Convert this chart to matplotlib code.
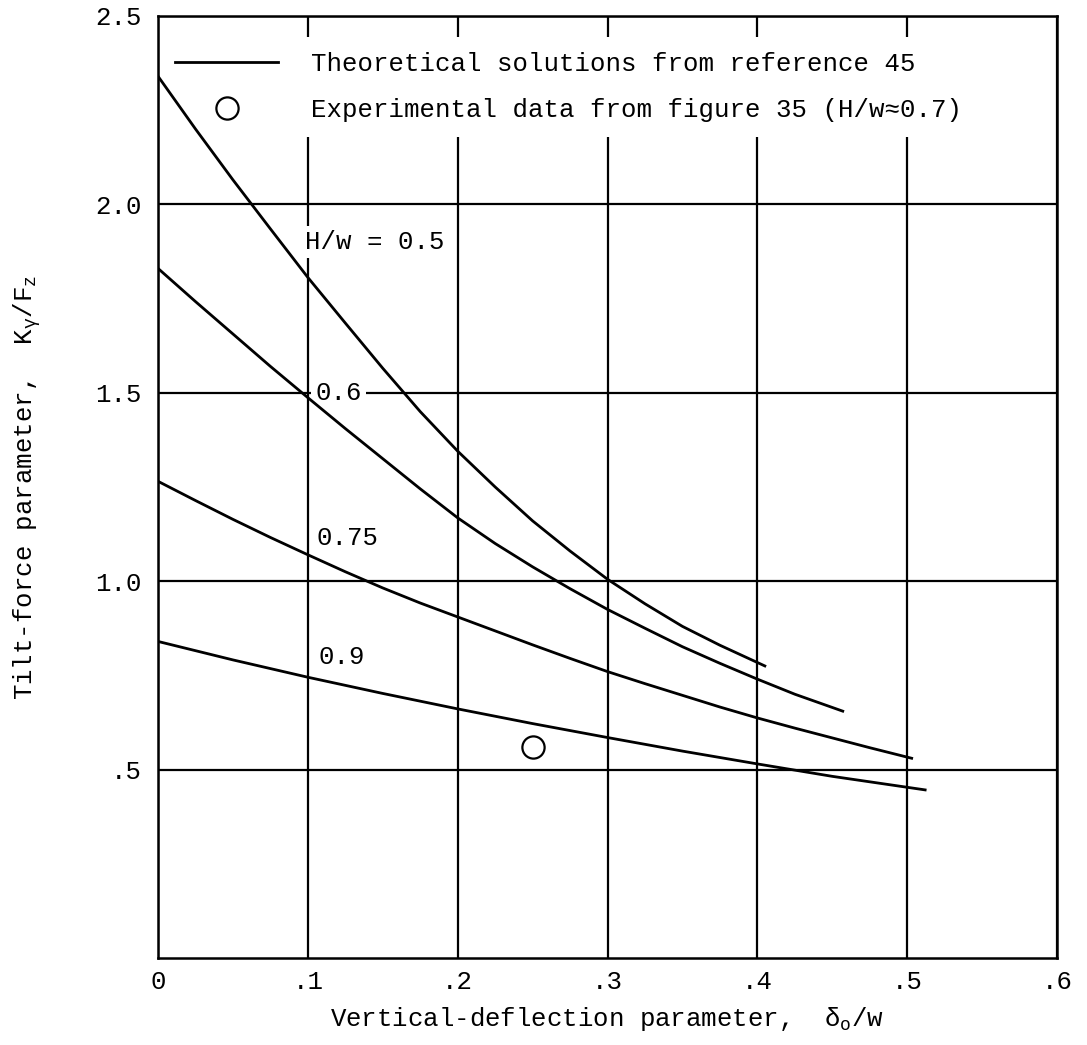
import matplotlib
matplotlib.use("Agg")
import matplotlib.pyplot as plt
from matplotlib.lines import Line2D

plt.rcParams['font.family'] = ['Liberation Mono', 'DejaVu Sans Mono']
plt.rcParams['mathtext.fontset'] = 'custom'
plt.rcParams['mathtext.rm'] = 'Liberation Mono'
plt.rcParams['mathtext.it'] = 'Liberation Mono'
plt.rcParams['mathtext.bf'] = 'Liberation Mono:bold'

# ---- data ----
hw05_x = [0.0, 0.025, 0.05, 0.075, 0.10, 0.125, 0.15, 0.175, 0.20, 0.225, 0.25,
          0.275, 0.30, 0.325, 0.35, 0.375, 0.405]
hw05_y = [2.34, 2.20, 2.065, 1.935, 1.806, 1.685, 1.565, 1.45, 1.345, 1.25, 1.16,
          1.08, 1.005, 0.94, 0.88, 0.83, 0.775]

hw06_x = [0.0, 0.025, 0.05, 0.075, 0.10, 0.125, 0.15, 0.175, 0.20, 0.225, 0.25,
          0.275, 0.30, 0.325, 0.35, 0.375, 0.40, 0.425, 0.457]
hw06_y = [1.83, 1.742, 1.656, 1.57, 1.487, 1.405, 1.325, 1.245, 1.168, 1.10, 1.038,
          0.98, 0.925, 0.875, 0.826, 0.782, 0.74, 0.70, 0.655]

hw075_x = [0.0, 0.025, 0.05, 0.075, 0.10, 0.125, 0.15, 0.175, 0.20, 0.225, 0.25,
           0.275, 0.30, 0.325, 0.35, 0.375, 0.40, 0.425, 0.45, 0.475, 0.503]
hw075_y = [1.265, 1.214, 1.164, 1.116, 1.07, 1.025, 0.982, 0.942, 0.905, 0.868, 0.831,
           0.795, 0.76, 0.728, 0.697, 0.666, 0.637, 0.61, 0.584, 0.558, 0.53]

hw09_x = [0.0, 0.05, 0.10, 0.15, 0.20, 0.25, 0.30, 0.35, 0.40, 0.45, 0.512]
hw09_y = [0.84, 0.791, 0.745, 0.702, 0.661, 0.622, 0.585, 0.549, 0.515, 0.482, 0.446]

exp_x = [0.25]
exp_y = [0.56]

curve_labels = ["H/w = 0.5", "0.6", "0.75", "0.9"]
curve_label_pos = [(0.098, 1.90), (0.105, 1.50), (0.106, 1.115), (0.107, 0.80)]

xticks = [0.0, 0.1, 0.2, 0.3, 0.4, 0.5, 0.6]
xtick_labels = ["0", ".1", ".2", ".3", ".4", ".5", ".6"]
yticks = [0.5, 1.0, 1.5, 2.0, 2.5]
ytick_labels = [".5", "1.0", "1.5", "2.0", "2.5"]

legend_labels = ["Theoretical solutions from reference 45",
                 "Experimental data from figure 35 (H/w\u22480.7)"]

FS = 18.5

fig = plt.figure(figsize=(10.87, 10.45), dpi=100)
ax = fig.add_axes([0.1454, 0.0833, 0.827, 0.9014])
ax.set_xlim(0, 0.6)
ax.set_ylim(0, 2.5)

ax.set_xticks(xticks)
ax.set_xticklabels(xtick_labels, fontsize=FS)
ax.set_yticks(yticks)
ax.set_yticklabels(ytick_labels, fontsize=FS)
ax.tick_params(length=0)
ax.tick_params(axis='x', pad=9)
ax.tick_params(axis='y', pad=12)

ax.grid(True, color='black', linewidth=1.6)
ax.set_axisbelow(True)
for s in ax.spines.values():
    s.set_linewidth(1.8)
    s.set_color('black')

for xs, ys in [(hw05_x, hw05_y), (hw06_x, hw06_y), (hw075_x, hw075_y), (hw09_x, hw09_y)]:
    ax.plot(xs, ys, color='black', linewidth=2.0, zorder=3)

ax.plot(exp_x, exp_y, linestyle='none', marker='o', markersize=16,
        markerfacecolor='white', markeredgecolor='black', markeredgewidth=1.6, zorder=4)

for lab, (lx, ly) in zip(curve_labels, curve_label_pos):
    ax.text(lx, ly, lab, fontsize=FS, ha='left', va='center', zorder=2,
            bbox=dict(facecolor='white', edgecolor='none', pad=3))

handles = [Line2D([], [], color='black', linewidth=2.0),
           Line2D([], [], linestyle='none', marker='o', markersize=16,
                  markerfacecolor='white', markeredgecolor='black', markeredgewidth=1.6)]
leg = ax.legend(handles, legend_labels, loc='upper left', bbox_to_anchor=(0.019, 0.962),
                frameon=False, handlelength=4.0, handletextpad=1.3, borderpad=0,
                borderaxespad=0, labelspacing=0.85, prop={'size': FS})
for t in leg.get_texts():
    t.set_bbox(dict(facecolor='white', edgecolor='none', pad=11))

ax.set_xlabel(r"Vertical-deflection parameter,  $\delta_\mathrm{o}$/w", fontsize=FS)
ax.set_ylabel(r"Tilt-force parameter,  K$_\gamma$/F$_\mathrm{z}$", fontsize=FS)
ax.xaxis.set_label_coords(0.5, -0.05)
ax.yaxis.set_label_coords(-0.128, 0.5)

fig.savefig("out.png", dpi=100)
